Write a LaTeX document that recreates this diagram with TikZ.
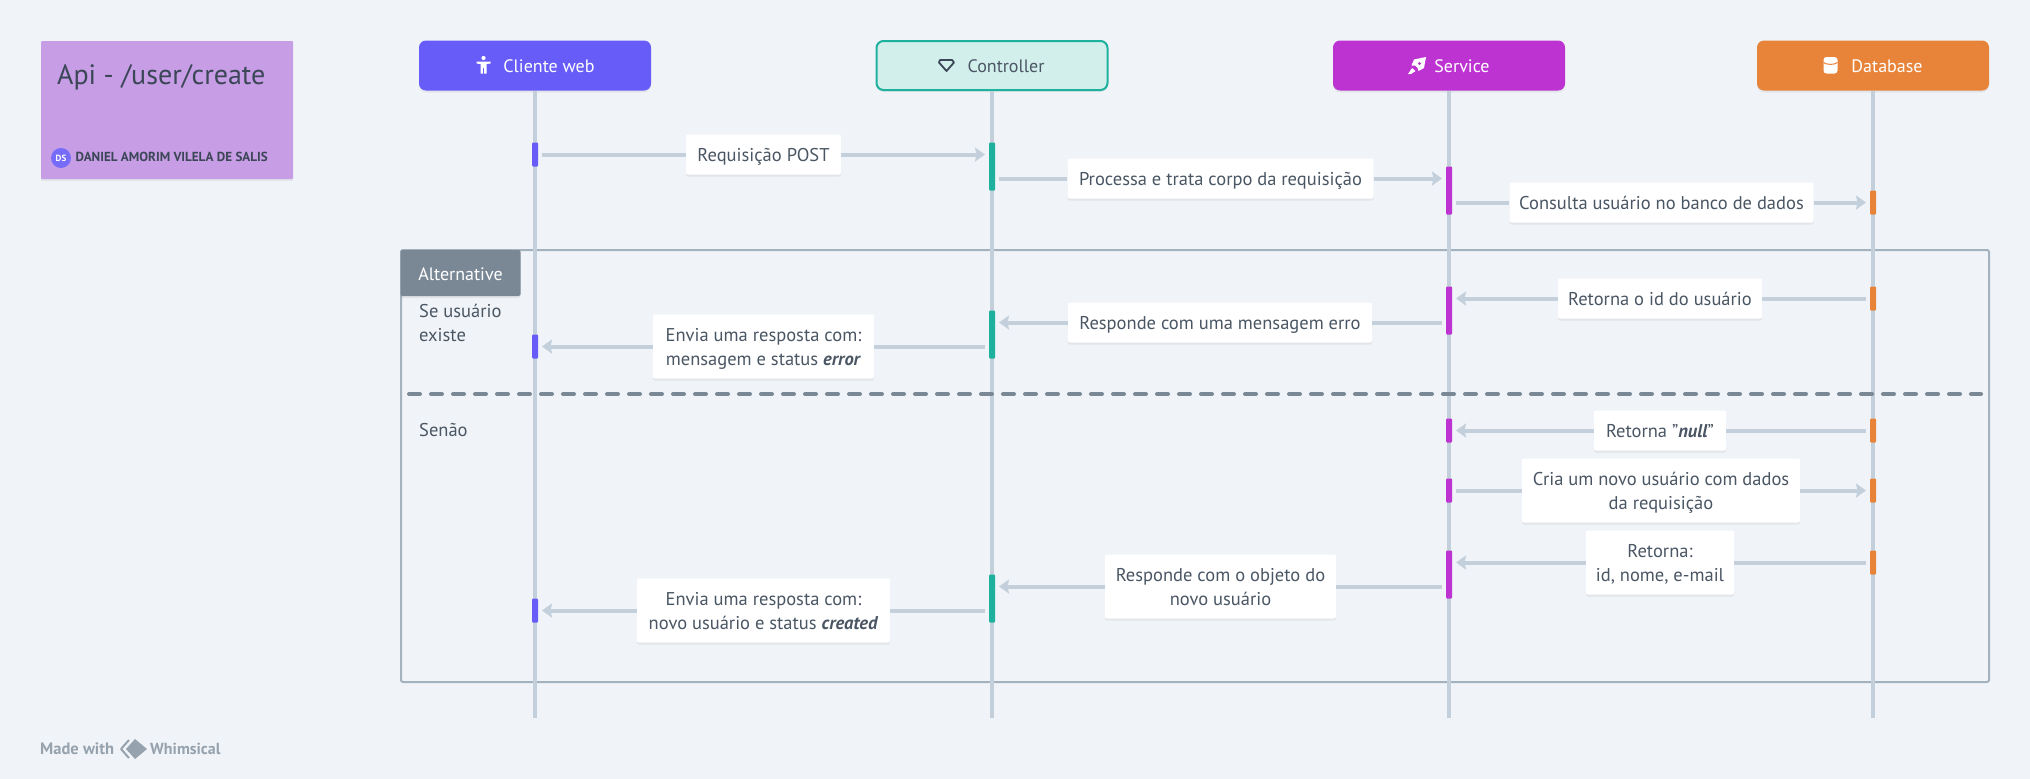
\documentclass[tikz,border=0pt]{standalone}
\usepackage{fontspec}
\setmainfont{PT Sans}
\usetikzlibrary{shadows, arrows.meta}

\definecolor{pagebg}{HTML}{F0F4F8}
\definecolor{textcol}{HTML}{4A5663}
\definecolor{titlecol}{HTML}{3B4656}
\definecolor{linecol}{HTML}{C3CFDA}
\definecolor{framecol}{HTML}{A4B2BF}
\definecolor{tabcol}{HTML}{7A8896}
\definecolor{clientcol}{HTML}{675CF8}
\definecolor{ctrlcol}{HTML}{1DB19E}
\definecolor{ctrlfill}{HTML}{D2EFEC}
\definecolor{servicecol}{HTML}{BD33D1}
\definecolor{dbcol}{HTML}{E8843A}
\definecolor{cardcol}{HTML}{C79DE6}
\definecolor{markcol}{HTML}{96A2AD}

\tikzset{
  softshadow/.style={drop shadow={opacity=0.12, shadow xshift=0pt, shadow yshift=-2pt}},
  head/.style={minimum width=232pt, minimum height=50pt, rounded corners=7pt, softshadow},
  headname/.style={font=\fontsize{18}{20}\selectfont, text height=13pt, text depth=0pt, inner sep=0pt},
  bar/.style={minimum width=6pt, inner sep=0pt, rounded corners=1pt},
  msg/.style={fill=white, rounded corners=2pt, text=textcol, inner sep=0pt, align=center, font=\fontsize{18.5}{24}\selectfont, text height=13.5pt, text depth=0pt, softshadow},
  msgtwo/.style={msg, text height=37.5pt, minimum height=64pt},
  lifeline/.style={draw=linecol, line width=3.4pt},
  wire/.style={draw=linecol, line width=4pt},
  wirearrow/.style={wire, -{Stealth[length=10pt, width=14pt, inset=1.5pt]}},
  side/.style={text=textcol, inner sep=0pt, align=left, anchor=west, font=\fontsize{18.5}{24}\selectfont},
}

\begin{document}
\begin{tikzpicture}[x=1pt, y=-1pt]
\useasboundingbox (0,0) rectangle (2030,779);
\fill [pagebg] (0,0) rectangle (2030,779);

% frame
\node (frame) [draw=framecol, line width=2pt, rounded corners=2pt, minimum width=1588pt, minimum height=432pt, inner sep=0pt] at (1195,466) {};

% heads
\node (client) [head, fill=clientcol] at (535,65.5) {};
\node (ctrl) [head, fill=ctrlfill, draw=ctrlcol, line width=2pt, minimum width=231pt, minimum height=49pt] at (992,65.5) {};
\node (service) [head, fill=servicecol] at (1449,65.5) {};
\node (db) [head, fill=dbcol] at (1873,65.5) {};

\node (clientname) [headname, text=white] at (549,65.5) {Cliente web};
\node (ctrlname) [headname, text=textcol] at (1006,65.5) {Controller};
\node (servicename) [headname, text=white] at (1462,65.5) {Service};
\node (dbname) [headname, text=white] at (1887,65.5) {Database};

% icons
\fill [white] (483.5,58) circle (2.1);
\fill [white] (476.5,61.5) -- (490.5,61.5) -- (490.5,63.5) -- (486.5,64) -- (486.5,73.5) -- (484.2,73.5) -- (484.2,68) -- (482.8,68) -- (482.8,73.5) -- (480.5,73.5) -- (480.5,64) -- (476.5,63.5) -- cycle;
\draw [titlecol, line width=1.8pt, line join=round] (940,60) -- (952,60) -- (954,62.5) -- (946.5,71) -- (939,62.5) -- cycle;
\fill [white] (1414,59.5) -- (1426,57) -- (1424,68) -- (1418.5,71) -- (1417.5,68) -- (1415,65.5) -- (1411.5,65.5) -- cycle;
\fill [white] (1412,68) -- (1415.5,71) -- (1411,74) -- (1408,74) -- cycle;
\fill [servicecol] (1419.5,63.5) circle (1.7);
\fill [white, rounded corners=3pt] (1823.5,57) rectangle (1837.5,73.5);
\draw [dbcol, line width=1pt] (1823.5,62.5) .. controls (1826,65) and (1835,65) .. (1837.5,62.5);

% lifelines
\coordinate (clientend) at (535,718);
\coordinate (ctrlend) at (992,718);
\coordinate (serviceend) at (1449,718);
\coordinate (dbend) at (1873,718);
\draw [lifeline] (client) to (clientend);
\draw [lifeline] (ctrl) to (ctrlend);
\draw [lifeline] (service) to (serviceend);
\draw [lifeline] (db) to (dbend);

% alternative
\node (alttab) [fill=tabcol, rounded corners=2pt, minimum width=120pt, minimum height=46pt, softshadow] at (460.5,273) {};
\node (alttext) [text=white, inner sep=0pt, text height=13pt, text depth=0pt, font=\fontsize{18}{20}\selectfont] at (460.5,274) {Alternative};
\node (altif) [side] at (419,322.5) {Se usuário\\existe};
\node (altelse) [side] at (419,430.5) {Senão};
\coordinate (splitl) at (409,394);
\coordinate (splitr) at (1981,394);
\draw [tabcol, line width=4pt, line cap=round, dash pattern=on 11pt off 11pt] (splitl) to (splitr);

% card
\node (card) [fill=cardcol, rounded corners=1pt, minimum width=252pt, minimum height=138pt, softshadow] at (167,110) {};
\node (cardtitle) [text=titlecol, anchor=west, inner sep=0pt, text height=18pt, text depth=0pt, font=\fontsize{28}{30}\selectfont] at (57,75) {Api - /user/create};
\node (avatar) [circle, fill=clientcol!90!white, minimum size=20pt, inner sep=0pt, text=white, font=\fontsize{9}{10}\selectfont\bfseries] at (61,158) {DS};
\node (author) [text=titlecol, anchor=west, inner sep=0pt, font=\fontsize{13.1}{16}\selectfont\bfseries] at (75.5,157) {DANIEL AMORIM VILELA DE SALIS};

% activation bars
\node (c1) [bar, fill=clientcol, minimum height=24pt] at (535,154.5) {};
\node (k1) [bar, fill=ctrlcol, minimum height=48pt] at (992,166.5) {};
\node (s1) [bar, fill=servicecol, minimum height=48pt] at (1449,190.5) {};
\node (d1) [bar, fill=dbcol, minimum height=24pt] at (1873,202.5) {};
\node (d2) [bar, fill=dbcol, minimum height=24pt] at (1873,298.5) {};
\node (s2) [bar, fill=servicecol, minimum height=48pt] at (1449,310.5) {};
\node (k2) [bar, fill=ctrlcol, minimum height=48pt] at (992,334.5) {};
\node (c2) [bar, fill=clientcol, minimum height=24pt] at (535,346.5) {};
\node (s3) [bar, fill=servicecol, minimum height=24pt] at (1449,430.5) {};
\node (d3) [bar, fill=dbcol, minimum height=24pt] at (1873,430.5) {};
\node (s4) [bar, fill=servicecol, minimum height=24pt] at (1449,490.5) {};
\node (d4) [bar, fill=dbcol, minimum height=24pt] at (1873,490.5) {};
\node (d5) [bar, fill=dbcol, minimum height=24pt] at (1873,562.5) {};
\node (s5) [bar, fill=servicecol, minimum height=48pt] at (1449,574.5) {};
\node (k3) [bar, fill=ctrlcol, minimum height=48pt] at (992,598.5) {};
\node (c3) [bar, fill=clientcol, minimum height=24pt] at (535,610.5) {};

% messages
\node (m1) [msg, minimum width=155pt, minimum height=40pt] at (763.5,154.5) {Requisição POST};
\node (m2) [msg, minimum width=306pt, minimum height=40pt] at (1220.5,178.5) {Processa e trata corpo da requisição};
\node (m3) [msg, minimum width=304pt, minimum height=40pt] at (1661.5,202.5) {Consulta usuário no banco de dados};
\node (m4) [msg, minimum width=204pt, minimum height=40pt] at (1660,298.5) {Retorna o id do usuário};
\node (m5) [msg, minimum width=304pt, minimum height=40pt] at (1220,322.5) {Responde com uma mensagem erro};
\node (m6) [msgtwo, minimum width=221pt] at (763.5,346.5) {Envia uma resposta com:\\mensagem e status \textbf{\textit{error}}};
\node (m7) [msg, minimum width=132pt, minimum height=40pt] at (1660,430.5) {Retorna "\textbf{\textit{null}}"};
\node (m8) [msgtwo, minimum width=278pt] at (1661,490.5) {Cria um novo usuário com dados\\da requisição};
\node (m9) [msgtwo, minimum width=148pt] at (1660,562.5) {Retorna:\\id, nome, e-mail};
\node (m10) [msgtwo, minimum width=231pt] at (1220.5,586.5) {Responde com o objeto do\\novo usuário};
\node (m11) [msgtwo, minimum width=253pt] at (763.5,610.5) {Envia uma resposta com:\\novo usuário e status \textbf{\textit{created}}};

\coordinate (a1) at (542,154.5);
\coordinate (b1) at (985,154.5);
\coordinate (a2) at (999,178.5);
\coordinate (b2) at (1442,178.5);
\coordinate (a3) at (1456,202.5);
\coordinate (b3) at (1866,202.5);
\coordinate (a4) at (1866,298.5);
\coordinate (b4) at (1456,298.5);
\coordinate (a5) at (1442,322.5);
\coordinate (b5) at (999,322.5);
\coordinate (a6) at (985,346.5);
\coordinate (b6) at (542,346.5);
\coordinate (a7) at (1866,430.5);
\coordinate (b7) at (1456,430.5);
\coordinate (a8) at (1456,490.5);
\coordinate (b8) at (1866,490.5);
\coordinate (a9) at (1866,562.5);
\coordinate (b9) at (1456,562.5);
\coordinate (a10) at (1442,586.5);
\coordinate (b10) at (999,586.5);
\coordinate (a11) at (985,610.5);
\coordinate (b11) at (542,610.5);

\foreach \i in {1,...,11} {
  \draw [wire] (a\i) to (m\i);
  \draw [wirearrow] (m\i) to (b\i);
}

% made with
\node (madewith) [text=markcol, anchor=west, inner sep=0pt, font=\fontsize{16.5}{18}\selectfont\bfseries] at (40,749) {Made with};
\draw [markcol, line width=2pt, line join=round] (129,740) -- (121,749) -- (129,758);
\fill [markcol] (135,739) -- (147,749) -- (135,759) -- (126,749) -- cycle;
\node (whimsical) [text=markcol, anchor=west, inner sep=0pt, font=\fontsize{16}{18}\selectfont\bfseries] at (150,749) {Whimsical};
\end{tikzpicture}
\end{document}
